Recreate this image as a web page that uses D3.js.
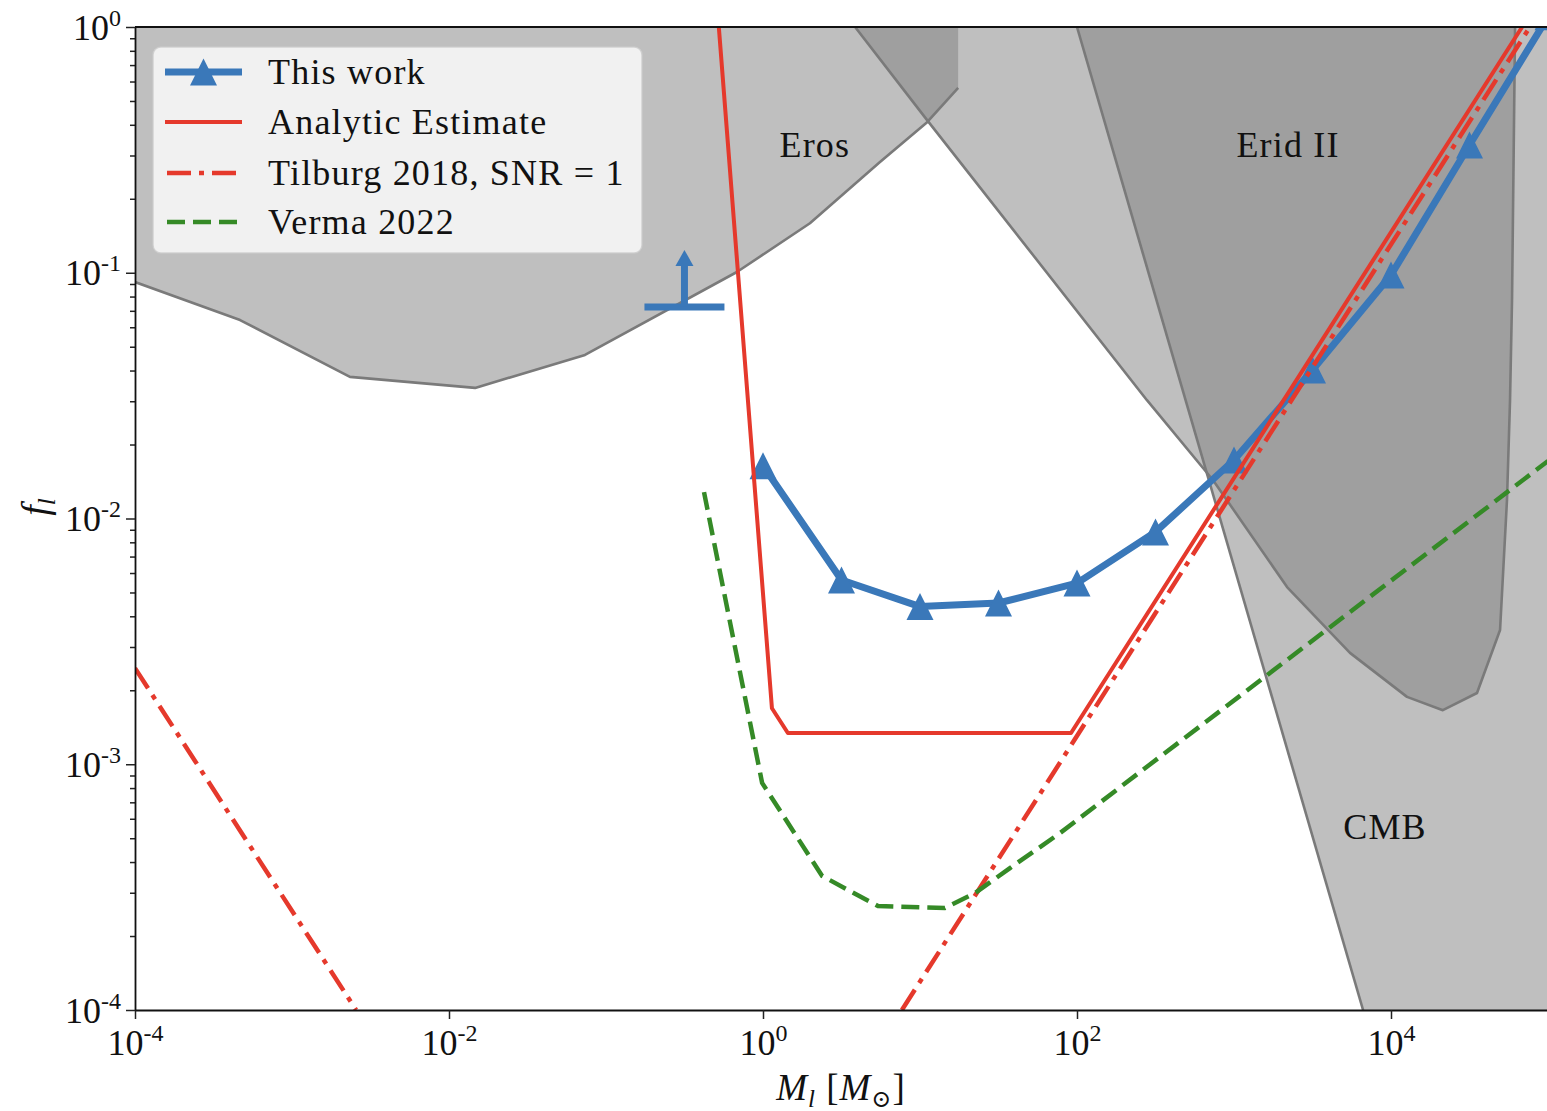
<!DOCTYPE html>
<html><head><meta charset="utf-8">
<script src="https://cdn.jsdelivr.net/npm/d3@7"></script>
<style>
body{margin:0;background:#fff}
svg{display:block}
text{font-family:"Liberation Serif","DejaVu Serif",serif;fill:#111}
</style>
</head><body>
<svg id="chart" width="1547" height="1111"></svg>
<script>
// ---------------- data ----------------
// This work (blue, triangles)
const thisWorkM = [1, 3.162, 10, 31.62, 100, 316.2, 1000, 3162, 10000, 31623, 100000];
const thisWorkF = [0.0164, 0.00562, 0.00438, 0.00453, 0.00546, 0.00882, 0.0173, 0.0402, 0.0979, 0.331, 1.1];
// lower-limit marker (blue)
const limitM = [0.316];
const limitF = [0.0726];
// Analytic estimate (red solid)
const analyticM = [0.52, 1.14, 1.44, 91.6, 68400];
const analyticF = [1.05, 0.00169, 0.00134, 0.00134, 1.0];
// Tilburg 2018, SNR = 1 (red dash-dot), two branches
const tilburgLowM = [1e-4, 0.00256];
const tilburgLowF = [0.00246, 1e-4];
const tilburgHighM = [7.67, 76700];
const tilburgHighF = [1e-4, 1.0];
// Verma 2022 (green dashed)
const vermaM = [0.421, 0.987, 2.38, 5.40, 14.4, 22.4, 37.4, 78.0, 100000];
const vermaF = [0.0128, 0.00084, 0.000351, 0.000265, 0.00026, 0.000299, 0.000378, 0.000525, 0.01714];
// Excluded regions (boundaries)
const erosM = [1e-4, 4.67e-4, 2.34e-3, 0.01466, 0.0735, 0.682, 1.99, 5.56, 11.1, 17.5];
const erosF = [0.0917, 0.0642, 0.0377, 0.0340, 0.0463, 0.1007, 0.159, 0.282, 0.410, 0.565];
const eridM = [3.86, 11.1, 279, 734, 2178, 5480, 12650, 21400, 35300, 49500, 54800, 57300, 59000, 61700];
const eridF = [1, 0.418, 0.0303, 0.01435, 0.00526, 0.00284, 0.00188, 0.00166, 0.00195, 0.00352, 0.0119, 0.0303, 0.0775, 1];
const cmbM = [100, 6640];
const cmbF = [1, 1e-4];
// region labels
const regionLabels = ["Eros", "Erid II", "CMB"];
const regionLabelM = [2.14, 2210, 9160];
const regionLabelF = [0.296, 0.296, 0.000497];
// ticks
const xTickExp = [-4, -2, 0, 2, 4];
const yTickExp = [-4, -3, -2, -1, 0];
const legendLabels = ["This work", "Analytic Estimate", "Tilburg 2018, SNR = 1", "Verma 2022"];

// ---------------- setup ----------------
const BLUE = "#3a78b9", RED = "#e5392c", GREEN = "#358a27";
const svg = d3.select("#chart");
const L = 135, T = 27, R = 1548, B = 1010;
const x = d3.scaleLog().domain([1e-4, 1e5]).range([L, R]);
const y = d3.scaleLog().domain([1e-4, 1]).range([B, T]);
const zip = (a, b) => a.map((v, i) => [v, b[i]]);
const line = d3.line().x(d => x(d[0])).y(d => y(d[1]));

svg.append("defs").append("clipPath").attr("id", "clip")
  .append("rect").attr("x", L).attr("y", T).attr("width", R - L).attr("height", B - T);
const plot = svg.append("g").attr("clip-path", "url(#clip)");

// ---------------- regions ----------------
const [xMin, xMax] = x.domain(), [yMin, yMax] = y.domain();
const erosPts = zip(erosM, erosF);
const erosPoly = erosPts.concat([[erosM[erosM.length - 1], yMax], [xMin, yMax]]);
const eridPts = zip(eridM, eridF);
const cmbPts = zip(cmbM, cmbF);
const cmbPoly = cmbPts.concat([[xMax, yMin], [xMax, yMax]]);
[erosPoly, eridPts, cmbPoly].forEach(p => {
  plot.append("path").attr("d", line(p) + "Z").attr("fill", "#808080").attr("fill-opacity", 0.5);
});
[erosPts, eridPts, cmbPts].forEach(p => {
  plot.append("path").attr("d", line(p)).attr("fill", "none")
    .attr("stroke", "#7a7a7a").attr("stroke-width", 2.6).attr("stroke-linejoin", "round");
});
regionLabels.forEach((t, i) => {
  plot.append("text").attr("x", x(regionLabelM[i])).attr("y", y(regionLabelF[i]))
    .attr("text-anchor", "middle").attr("font-size", 36).attr("letter-spacing", 1.2).text(t);
});

// ---------------- series ----------------
const tri = s => `M0,${-s / 2}L${s / 2},${s / 2}L${-s / 2},${s / 2}Z`;
plot.append("path").attr("d", line(zip(thisWorkM, thisWorkF))).attr("fill", "none")
  .attr("stroke", BLUE).attr("stroke-width", 7).attr("stroke-linejoin", "round");
plot.selectAll(".tw").data(zip(thisWorkM, thisWorkF)).enter().append("path")
  .attr("d", tri(27)).attr("transform", d => `translate(${x(d[0])},${y(d[1])})`).attr("fill", BLUE);
// lower limit marker
limitM.forEach((m, i) => {
  const cx = x(m), cy = y(limitF[i]);
  const g = plot.append("g").attr("transform", `translate(${cx},${cy})`);
  g.append("line").attr("x1", -40).attr("x2", 40).attr("y1", 0).attr("y2", 0).attr("stroke", BLUE).attr("stroke-width", 7);
  g.append("line").attr("x1", 0).attr("x2", 0).attr("y1", 0).attr("y2", -42).attr("stroke", BLUE).attr("stroke-width", 7);
  g.append("path").attr("d", "M0,-57L9,-41L-9,-41Z").attr("fill", BLUE);
});
plot.append("path").attr("d", line(zip(analyticM, analyticF))).attr("fill", "none")
  .attr("stroke", RED).attr("stroke-width", 4).attr("stroke-linejoin", "round");
[zip(tilburgLowM, tilburgLowF), zip(tilburgHighM, tilburgHighF)].forEach(p => {
  plot.append("path").attr("d", line(p)).attr("fill", "none")
    .attr("stroke", RED).attr("stroke-width", 4.5).attr("stroke-dasharray", "24,8,5,8");
});
plot.append("path").attr("d", line(zip(vermaM, vermaF))).attr("fill", "none")
  .attr("stroke", GREEN).attr("stroke-width", 4.5).attr("stroke-dasharray", "18,8");

// ---------------- axes ----------------
const xAxis = d3.axisBottom(x).tickValues(xTickExp.map(e => Math.pow(10, e))).tickFormat("").tickSize(9).tickSizeOuter(0);
const gx = svg.append("g").attr("transform", `translate(0,${B})`).call(xAxis);
const yMinor = [];
for (let e = -4; e < 0; e++) for (let k = 2; k <= 9; k++) yMinor.push(k * Math.pow(10, e));
svg.append("g").attr("transform", `translate(${L},0)`)
  .call(d3.axisLeft(y).tickValues(yMinor).tickFormat("").tickSize(5).tickSizeOuter(0))
  .select(".domain").remove();
const gy = svg.append("g").attr("transform", `translate(${L},0)`)
  .call(d3.axisLeft(y).tickValues(yTickExp.map(e => Math.pow(10, e))).tickFormat("").tickSize(9).tickSizeOuter(0));
svg.selectAll(".tick line").attr("stroke", "#222").attr("stroke-width", 1.5);
svg.selectAll(".domain").attr("stroke", "#111").attr("stroke-width", 1.8);
// top spine
svg.append("line").attr("x1", L).attr("x2", R).attr("y1", T).attr("y2", T).attr("stroke", "#111").attr("stroke-width", 1.8);

gx.selectAll(".tick").each(function (d, i) {
  const t = d3.select(this).append("text").attr("y", 45).attr("text-anchor", "middle").attr("font-size", 36).attr("fill", "#111");
  t.append("tspan").text("10");
  t.append("tspan").attr("dy", -14).attr("font-size", 24).text(String(xTickExp[i]));
});
gy.selectAll(".tick").each(function (d, i) {
  const t = d3.select(this).append("text").attr("x", -14).attr("y", 12).attr("text-anchor", "end").attr("font-size", 36).attr("fill", "#111");
  t.append("tspan").text("10");
  t.append("tspan").attr("dy", -14).attr("font-size", 24).text(String(yTickExp[i]));
});

// axis labels
const xl = svg.append("text").attr("x", 841).attr("y", 1100).attr("text-anchor", "middle").attr("font-size", 37).attr("letter-spacing", 1);
xl.append("tspan").attr("font-style", "italic").text("M");
xl.append("tspan").attr("font-style", "italic").attr("font-size", 25).attr("dy", 7).text("l");
xl.append("tspan").attr("dy", -7).text("  [");
xl.append("tspan").attr("font-style", "italic").text("M");
xl.append("tspan").attr("font-size", 24).attr("dy", 7).text("\u2299");
xl.append("tspan").attr("dy", -7).text("]");
const yl = svg.append("text").attr("transform", "translate(48,507) rotate(-90)").attr("text-anchor", "middle").attr("font-size", 38);
yl.append("tspan").attr("font-style", "italic").text("f");
yl.append("tspan").attr("font-style", "italic").attr("font-size", 25).attr("dy", 7).text("l");

// ---------------- legend ----------------
const lg = svg.append("g");
lg.append("rect").attr("x", 153).attr("y", 47).attr("width", 489).attr("height", 206).attr("rx", 8)
  .attr("fill", "#fff").attr("fill-opacity", 0.78).attr("stroke", "#ccc").attr("stroke-opacity", 0.8).attr("stroke-width", 1.5);
const rowY = [72, 122, 173, 222];
const hx1 = 165, hx2 = 242;
lg.append("line").attr("x1", hx1).attr("x2", hx2).attr("y1", rowY[0]).attr("y2", rowY[0]).attr("stroke", BLUE).attr("stroke-width", 7);
lg.append("path").attr("d", tri(27)).attr("transform", `translate(${(hx1 + hx2) / 2},${rowY[0]})`).attr("fill", BLUE);
lg.append("line").attr("x1", hx1).attr("x2", hx2).attr("y1", rowY[1]).attr("y2", rowY[1]).attr("stroke", RED).attr("stroke-width", 4);
lg.append("line").attr("x1", hx1 + 2).attr("x2", hx2).attr("y1", rowY[2]).attr("y2", rowY[2]).attr("stroke", RED).attr("stroke-width", 4.5).attr("stroke-dasharray", "24,8,5,8");
lg.append("line").attr("x1", hx1 + 2).attr("x2", hx2).attr("y1", rowY[3]).attr("y2", rowY[3]).attr("stroke", GREEN).attr("stroke-width", 4.5).attr("stroke-dasharray", "18,8");
legendLabels.forEach((t, i) => {
  lg.append("text").attr("x", 268).attr("y", rowY[i] + 12).attr("font-size", 36).attr("letter-spacing", 1.2).text(t);
});
</script>
</body></html>
